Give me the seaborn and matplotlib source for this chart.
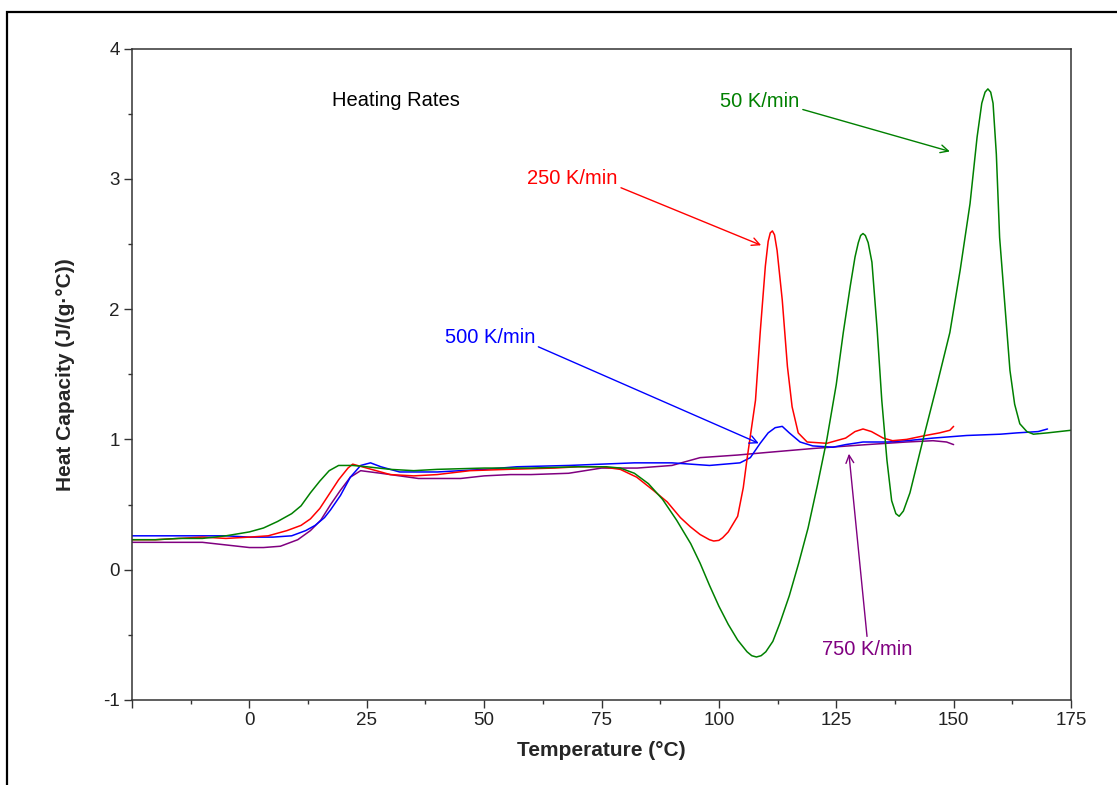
import numpy as np
import pandas as pd
import matplotlib
matplotlib.use("Agg")
import matplotlib.pyplot as plt
import seaborn as sns
from matplotlib.patches import Rectangle

# heating rate curves (temperature °C, heat capacity J/(g·°C))
t_50 = [-25, -20, -15, -10, -5, 0, 3, 6, 9, 11, 13, 15, 17, 19, 22, 25, 30, 35, 40, 50, 60, 70, 76,
        79, 82, 85, 88, 91, 94, 96, 98, 100, 102, 104, 106, 107, 108, 109, 110, 111.5, 113, 115,
        117, 119, 121, 123, 125, 126.5, 128, 129, 129.7, 130.2, 130.7, 131.2, 131.8, 132.6, 133.7,
        134.7, 135.8, 136.8, 137.7, 138.4, 139.3, 140.7, 142, 143.5, 146.4, 149.2, 151.4, 153.5,
        155, 156, 156.7, 157.3, 157.9, 158.4, 159.1, 159.8, 160.9, 162, 163, 164.1, 165.6, 167,
        170, 175]
cp_50 = [0.23, 0.23, 0.24, 0.24, 0.26, 0.29, 0.32, 0.37, 0.43, 0.49, 0.59, 0.68, 0.76, 0.80, 0.80,
         0.79, 0.77, 0.76, 0.77, 0.78, 0.78, 0.79, 0.79,
         0.78, 0.74, 0.66, 0.54, 0.38, 0.20, 0.05, -0.12, -0.28, -0.42, -0.54, -0.63, -0.66, -0.67,
         -0.66, -0.63, -0.55, -0.41, -0.20,
         0.05, 0.32, 0.65, 1.00, 1.42, 1.82, 2.18, 2.40, 2.51, 2.565, 2.58, 2.565, 2.51, 2.36, 1.85,
         1.30, 0.84, 0.53, 0.43, 0.41, 0.45, 0.59, 0.78, 1.00, 1.41, 1.82, 2.30, 2.81,
         3.32, 3.58, 3.665, 3.69, 3.665, 3.58, 3.19, 2.55, 2.04, 1.53, 1.27, 1.12, 1.06, 1.04,
         1.05, 1.07]

t_250 = [-25, -20, -15, -10, -5, 0, 4, 8, 11, 13, 15, 17, 19, 21, 22, 23, 25, 28, 30, 35, 40, 47,
         55, 65, 70, 75, 79, 82.5, 86, 89, 91.8, 93.9, 96, 98, 98.9, 100, 100.8, 102, 104, 105.2,
         106, 106.6, 107.8, 108.8, 109.9, 110.5, 110.95, 111.4, 111.85, 112.4, 113.5, 114.6, 115.6,
         116.9, 118.8, 123, 127, 129, 130.7, 132.5, 135, 137, 140, 144, 147, 149.2, 150]
cp_250 = [0.23, 0.23, 0.24, 0.25, 0.24, 0.25, 0.26, 0.30, 0.34, 0.39, 0.47, 0.58, 0.69, 0.78, 0.81,
          0.80, 0.78, 0.75, 0.73, 0.72, 0.73, 0.76,
          0.77, 0.78, 0.79, 0.79, 0.77, 0.71, 0.61, 0.52, 0.40, 0.33, 0.27, 0.23, 0.22, 0.225, 0.245,
          0.29, 0.41, 0.63,
          0.85, 1.00, 1.30, 1.82, 2.33, 2.52, 2.585, 2.60, 2.57, 2.45, 2.07, 1.56, 1.25,
          1.05, 0.98, 0.97, 1.01, 1.06, 1.08, 1.06, 1.01, 0.99, 1.00, 1.03, 1.05, 1.07, 1.10]

t_500 = [-25, -15, -5, 0, 5, 9, 12, 14, 16, 17.3, 19.4, 21.5, 23.7, 25.8, 28, 30, 32, 40, 50, 57,
         68, 75, 82, 90, 98, 104.5, 106.7, 108.8, 110.5, 112, 113.5, 115, 117.3, 120, 124.3, 127,
         130.7, 136, 140, 145.6, 152.8, 160, 163.5, 168, 170]
cp_500 = [0.26, 0.26, 0.26, 0.25, 0.25, 0.26, 0.30, 0.34, 0.40, 0.46, 0.57, 0.71, 0.80, 0.82, 0.79,
          0.77, 0.75, 0.75, 0.77, 0.79,
          0.80, 0.81, 0.82, 0.82, 0.80, 0.82, 0.86, 0.97, 1.05, 1.09, 1.10, 1.05, 0.98, 0.95, 0.94,
          0.96, 0.98, 0.98, 0.99, 1.01, 1.03, 1.04, 1.05, 1.06, 1.08]

t_750 = [-25, -15, -10, -5, 0, 3, 6.6, 10.3, 13, 15.2, 17.3, 19.4, 21.5, 23.7, 25.8, 28, 32, 36, 45,
         50, 55.6, 60, 68, 75, 82.6, 90, 96, 104, 110.3, 120, 131.5, 140, 145.6, 148.5, 150]
cp_750 = [0.21, 0.21, 0.21, 0.19, 0.17, 0.17, 0.18, 0.23, 0.30, 0.38, 0.50, 0.61, 0.71, 0.76, 0.75,
          0.74, 0.72, 0.70, 0.70,
          0.72, 0.73, 0.73, 0.74, 0.78, 0.78, 0.80, 0.86, 0.88, 0.90, 0.93, 0.96, 0.98, 0.99,
          0.98, 0.96]

rates = ["50 K/min", "250 K/min", "500 K/min", "750 K/min"]
colors = ["#008000", "#ff0000", "#0000ff", "#800080"]

df = pd.concat([
    pd.DataFrame({"T": t_50, "Cp": cp_50, "rate": rates[0]}),
    pd.DataFrame({"T": t_250, "Cp": cp_250, "rate": rates[1]}),
    pd.DataFrame({"T": t_500, "Cp": cp_500, "rate": rates[2]}),
    pd.DataFrame({"T": t_750, "Cp": cp_750, "rate": rates[3]}),
], ignore_index=True)

sns.set_style("ticks")
plt.rcParams["font.family"] = ["Liberation Sans", "DejaVu Sans"]
plt.rcParams["axes.unicode_minus"] = False

fig = plt.figure(figsize=(11.17, 7.85), dpi=100)
ax = fig.add_axes([0.1182, 0.1083, 0.8406, 0.8299])

# draw back to front like the original (purple, blue, red, green)
for rate, col in list(zip(rates, colors))[::-1]:
    sub = df[df["rate"] == rate]
    sns.lineplot(data=sub, x="T", y="Cp", color=col, lw=1.1, sort=False,
                 estimator=None, ax=ax, legend=False)

ax.set_xlim(-25, 175)
ax.set_ylim(-1, 4)
ax.set_xticks([-25, 0, 25, 50, 75, 100, 125, 150, 175])
ax.set_xticklabels(["", "0", "25", "50", "75", "100", "125", "150", "175"])
ax.set_xticks([-12.5, 12.5, 37.5, 62.5, 87.5, 112.5, 137.5, 162.5], minor=True)
ax.set_yticks([-1, 0, 1, 2, 3, 4])
ax.set_yticks([-0.5, 0.5, 1.5, 2.5, 3.5], minor=True)
ax.tick_params(which="major", direction="out", length=6, width=1, color="#333333",
               labelsize=13.5, labelcolor="#222222", pad=3)
ax.tick_params(which="minor", direction="out", length=3, width=1, color="#333333")
for s in ax.spines.values():
    s.set_visible(True)
    s.set_color("#333333")
    s.set_linewidth(1.1)

ax.set_xlabel("Temperature (°C)", fontsize=15, fontweight="bold", labelpad=8)
ax.set_ylabel("Heat Capacity (J/(g·°C))", fontsize=15, fontweight="bold", labelpad=20)

ax.text(17.5, 3.6, "Heating Rates", fontsize=14.5, color="black", va="center", ha="left")

arrow_kw = dict(arrowstyle="->", lw=1.0, shrinkA=0, shrinkB=0, mutation_scale=14)
ax.annotate("50 K/min", xy=(149.2, 3.21), xytext=(100.3, 3.59), color=colors[0], fontsize=14.5,
            va="center", ha="left", arrowprops=dict(color=colors[0], **arrow_kw,
                                                    relpos=(1.0, 0.15)))
ax.annotate("250 K/min", xy=(109, 2.49), xytext=(59.2, 3.0), color=colors[1], fontsize=14.5,
            va="center", ha="left", arrowprops=dict(color=colors[1], **arrow_kw,
                                                    relpos=(1.0, 0.1)))
ax.annotate("500 K/min", xy=(108.5, 0.97), xytext=(41.6, 1.78), color=colors[2], fontsize=14.5,
            va="center", ha="left", arrowprops=dict(color=colors[2], **arrow_kw,
                                                    relpos=(1.0, 0.1)))
ax.annotate("750 K/min", xy=(127.7, 0.89), xytext=(122, -0.61), color=colors[3], fontsize=14.5,
            va="center", ha="left", arrowprops=dict(color=colors[3], **arrow_kw,
                                                    relpos=(0.5, 1.0)))

# outer frame of the original export window (cut off at right and bottom)
fig.patches.append(Rectangle((7 / 1117, -0.1), 1.2, 1 - 12 / 785 + 0.1, transform=fig.transFigure,
                             fill=False, edgecolor="black", lw=1.6))

fig.savefig("out.png", dpi=100)
